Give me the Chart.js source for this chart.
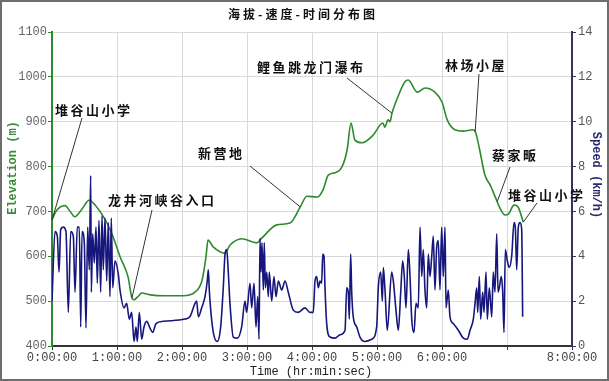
<!DOCTYPE html>
<html><head><meta charset="utf-8">
<script src="https://cdn.jsdelivr.net/npm/chart.js@4.4.1/dist/chart.umd.min.js"></script>
<style>html,body{margin:0;padding:0;background:#fff}canvas{display:block}</style>
</head><body>
<canvas id="c" width="609" height="381"></canvas>
<script>
// ---------- DATA ----------
const elevHours = [0.00,0.06,0.20,0.28,0.35,0.46,0.57,0.66,0.82,0.94,1.05,1.17,1.23,1.26,1.32,1.38,1.51,1.74,2.02,2.20,2.31,2.37,2.40,2.48,2.66,2.74,2.92,3.15,3.23,3.46,3.66,3.82,3.92,4.08,4.17,4.25,4.35,4.46,4.54,4.60,4.66,4.77,4.94,5.09,5.12,5.17,5.20,5.23,5.32,5.43,5.48,5.62,5.74,5.89,6.00,6.08,6.20,6.32,6.48,6.52,6.58,6.66,6.74,6.82,6.89,6.97,7.02,7.11,7.17,7.25];
const elevMeters = [681,700,713,700,688,705,725,715,681,643,598,554,507,503,510,518,514,512,512,520,547,600,636,621,607,625,639,630,641,670,674,710,734,732,748,781,786,799,837,897,859,853,870,897,888,904,900,919,955,989,993,966,975,966,944,904,882,879,882,875,837,781,759,732,708,692,694,714,710,676];

const speedHours = [0.00,0.046,0.082,0.108,0.134,0.174,0.215,0.251,0.288,0.328,0.354,0.389,0.420,0.442,0.462,0.497,0.523,0.549,0.574,0.595,0.605,0.626,0.651,0.677,0.697,0.723,0.749,0.769,0.789,0.815,0.842,0.866,0.892,0.912,0.934,0.969,1.020,1.046,1.108,1.149,1.189,1.226,1.262,1.292,1.312,1.343,1.380,1.415,1.457,1.508,1.549,1.600,1.712,2.046,2.12,2.20,2.226,2.251,2.303,2.354,2.389,2.405,2.420,2.442,2.482,2.543,2.595,2.635,2.662,2.688,2.712,2.738,2.789,2.851,2.918,2.969,2.995,3.046,3.072,3.108,3.138,3.165,3.185,3.200,3.215,3.231,3.251,3.266,3.282,3.303,3.328,3.343,3.380,3.415,3.446,3.482,3.534,3.585,3.635,3.712,3.789,3.892,3.969,4.020,4.046,4.072,4.097,4.123,4.149,4.165,4.185,4.200,4.226,4.277,4.354,4.431,4.508,4.534,4.558,4.574,4.595,4.611,4.635,4.688,4.738,4.815,4.918,4.995,5.020,5.057,5.082,5.097,5.123,5.158,5.226,5.251,5.292,5.328,5.365,5.395,5.420,5.446,5.482,5.508,5.534,5.569,5.600,5.635,5.662,5.688,5.712,5.738,5.765,5.789,5.815,5.842,5.866,5.892,5.918,5.943,5.969,5.995,6.020,6.046,6.062,6.097,6.123,6.174,6.251,6.328,6.389,6.431,6.482,6.508,6.534,6.549,6.574,6.595,6.626,6.646,6.677,6.697,6.728,6.765,6.789,6.815,6.842,6.862,6.882,6.912,6.934,6.954,6.974,7.005,7.035,7.072,7.108,7.128,7.149,7.174,7.200,7.226,7.241];
const speedKmh = [2.0,5.1,4.9,3.3,5.2,5.3,5.1,1.5,5.1,4.9,2.4,5.3,5.3,0.85,5.1,4.6,0.8,5.3,3.4,7.6,2.4,5.0,3.7,5.3,2.8,5.6,2.4,5.8,3.4,5.7,2.9,5.5,2.2,5.7,2.6,3.8,3.2,2.5,1.7,1.9,1.2,1.5,0.2,0.85,0.2,1.5,0.3,0.85,1.1,0.8,0.6,1.0,1.1,1.2,1.3,1.9,2.0,1.3,1.7,2.2,2.9,3.4,2.5,1.6,0.6,0.2,0.85,2.6,4.1,4.3,3.3,1.9,0.4,0.35,0.85,2.0,1.5,2.8,1.7,2.8,0.85,2.2,0.3,4.8,3.3,4.6,2.5,4.6,2.6,3.3,2.2,3.3,2.0,3.1,2.2,2.9,2.5,2.9,2.4,1.6,1.5,1.7,1.5,1.5,2.9,3.1,2.6,2.9,2.8,4.1,4.0,2.6,1.0,0.4,0.35,0.5,0.7,2.6,2.4,1.2,4.1,2.4,1.3,0.85,0.4,0.2,0.3,0.85,2.6,3.3,2.0,3.5,2.5,0.7,3.3,2.9,1.6,0.7,2.4,3.8,3.1,1.7,4.3,3.1,1.2,0.6,1.9,1.7,5.3,3.1,4.3,2.5,1.7,4.1,3.1,4.0,4.9,2.5,4.4,4.7,2.5,5.3,3.1,5.3,1.7,2.5,1.3,1.0,0.7,0.35,0.3,0.7,1.2,1.9,2.6,1.5,3.1,1.2,2.4,1.5,3.3,1.2,2.6,1.3,3.3,2.4,5.0,2.4,2.6,3.1,2.4,0.6,4.3,3.8,3.5,4.0,5.5,5.3,3.4,5.3,5.5,5.2,1.3];

const xTickHours = [0,1,2,3,4,5,6,7,8];
const xTickLabels = ['0:00:00','1:00:00','2:00:00','3:00:00','4:00:00','5:00:00','6:00:00','','8:00:00'];
const elevTicks = [400,500,600,700,800,900,1000,1100];
const speedTicks = [0,2,4,6,8,10,12,14];

const annotTexts = ['堆谷山小学','龙井河峡谷入口','新营地','鲤鱼跳龙门瀑布','林场小屋','蔡家畈','堆谷山小学'];
const annotHours = [0.00,1.23,3.82,5.23,6.51,6.85,7.25];
const annotElev  = [681,507,710,919,877,722,676];

const titleText = '海拔-速度-时间分布图';
const xTitle = 'Time (hr:min:sec)';
const yTitle = 'Elevation (m)';
const y1Title = 'Speed (km/h)';

// ---------- LAYOUT / STYLE ----------
const annotLayout = [
  {tx:55, ty:110, lx:82, ly:118},
  {tx:108, ty:200, lx:152, ly:210},
  {tx:198, ty:153, lx:250, ly:166},
  {tx:257, ty:67, lx:347, ly:78},
  {tx:445, ty:65, lx:479, ly:74},
  {tx:492, ty:155, lx:510, ly:167},
  {tx:508, ty:195, lx:537, ly:203}
];
const GREEN = '#2e8a2e';
const NAVY = '#16167c';
const MONO = '"Liberation Mono", "DejaVu Sans Mono", monospace';
const CJK = '"Noto Sans CJK SC", sans-serif';

const overlay = {
  id:'overlay',
  afterDatasetsDraw(chart){
    const c = chart.ctx, xs = chart.scales.x, ys = chart.scales.y;
    c.save();
    c.font = 'bold 13px ' + CJK;
    c.textBaseline = 'middle';
    c.textAlign = 'left';
    c.fillStyle = '#111';
    c.strokeStyle = '#333';
    c.lineWidth = 1;
    annotTexts.forEach((t,i)=>{
      const L = annotLayout[i];
      const px = xs.getPixelForValue(annotHours[i]);
      const py = ys.getPixelForValue(annotElev[i]);
      c.beginPath(); c.moveTo(L.lx, L.ly); c.lineTo(px, py); c.stroke();
      c.letterSpacing = '2.5px';
      c.fillText(t, L.tx, L.ty);
    });
    c.restore();
  },
  afterDraw(chart){
    const c = chart.ctx;
    c.save();
    c.fillStyle = '#111';
    c.font = 'bold 12px ' + CJK;
    c.textAlign = 'center'; c.textBaseline = 'middle';
    c.letterSpacing = '3px';
    c.fillText(titleText, 303, 14);
    c.letterSpacing = '0px';
    c.font = '12px ' + MONO;
    c.fillStyle = '#222';
    c.fillText(xTitle, 311, 372);
    c.save();
    c.translate(13, 168); c.rotate(-Math.PI/2);
    c.font = 'bold 12px ' + MONO; c.fillStyle = '#3a8a3a';
    c.fillText(yTitle, 0, 0);
    c.restore();
    c.save();
    c.translate(596, 175); c.rotate(Math.PI/2);
    c.font = 'bold 12px ' + MONO; c.fillStyle = '#2a2a6e';
    c.fillText(y1Title, 0, 0);
    c.restore();
    c.strokeStyle = '#6e6e6e'; c.lineWidth = 2;
    c.strokeRect(1, 1, 607, 379);
    c.restore();
  }
};

new Chart(document.getElementById('c'), {
  type:'line',
  data:{datasets:[
    {label:'Speed', data: speedHours.map((h,i)=>({x:h, y:speedKmh[i]})), yAxisID:'y1',
     borderColor:NAVY, borderWidth:1.6, pointRadius:0, cubicInterpolationMode:'monotone', fill:false, order:0},
    {label:'Elevation', data: elevHours.map((h,i)=>({x:h, y:elevMeters[i]})), yAxisID:'y',
     borderColor:GREEN, borderWidth:1.6, pointRadius:0, cubicInterpolationMode:'monotone', fill:false, order:1}
  ]},
  options:{
    responsive:false, animation:false, devicePixelRatio:1,
    layout:{padding:{top:32, left:0, right:0, bottom:0}},
    plugins:{legend:{display:false}, tooltip:{enabled:false}, title:{display:false}},
    scales:{
      x:{type:'linear', min:0, max:8,
        afterFit(s){ s.height = 35; },
        afterBuildTicks(s){ s.ticks = xTickHours.map(v=>({value:v})); },
        ticks:{autoSkip:false, maxRotation:0, padding:1, color:'#444', font:{family:MONO, size:12},
          callback:(v)=>{ const k = xTickHours.indexOf(v); return k>=0 ? xTickLabels[k] : ''; }},
        grid:{color:'#d9d9d9', tickColor:'#333', tickLength:4},
        border:{color:'#333', width:2}
      },
      y:{type:'linear', position:'left', min:400, max:1100,
        afterFit(s){ s.width = 52; },
        afterBuildTicks(s){ s.ticks = elevTicks.map(v=>({value:v})); },
        ticks:{padding:1, color:'#666', font:{family:MONO, size:12}, callback:(v)=>String(v)},
        grid:{color:'#d9d9d9', tickColor:GREEN, tickLength:4},
        border:{color:GREEN, width:2}
      },
      y1:{type:'linear', position:'right', min:0, max:14,
        afterFit(s){ s.width = 37; },
        afterBuildTicks(s){ s.ticks = speedTicks.map(v=>({value:v})); },
        ticks:{padding:2, color:'#555', font:{family:MONO, size:12}, callback:(v)=>String(v)},
        grid:{drawOnChartArea:false, tickColor:'#333366', tickLength:4},
        border:{color:'#333366', width:2}
      }
    }
  },
  plugins:[overlay]
});
</script>
</body></html>
